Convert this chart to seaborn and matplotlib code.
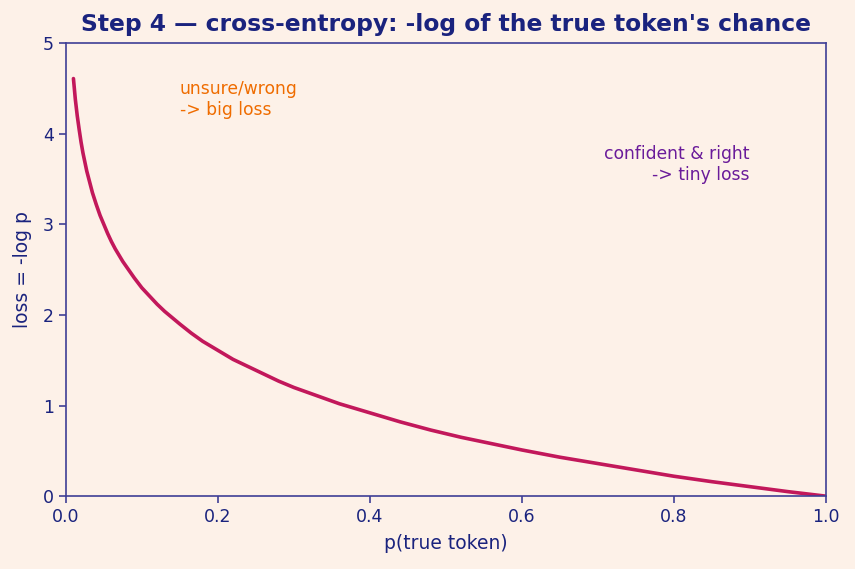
import matplotlib
matplotlib.use("Agg")
import matplotlib.pyplot as plt
import seaborn as sns
import pandas as pd

# values
p_true = [0.01, 0.0125, 0.015, 0.0175, 0.02, 0.0225, 0.025, 0.0275, 0.03, 0.035,
          0.04, 0.045, 0.05, 0.055, 0.06, 0.065, 0.07, 0.075, 0.08, 0.09, 0.1,
          0.11, 0.12, 0.13, 0.14, 0.15, 0.165, 0.18, 0.2, 0.22, 0.24, 0.26,
          0.28, 0.3, 0.33, 0.36, 0.4, 0.44, 0.48, 0.52, 0.56, 0.6, 0.65, 0.7,
          0.75, 0.8, 0.85, 0.9, 0.95, 1.0]
loss = [4.61, 4.38, 4.20, 4.05, 3.91, 3.79, 3.69, 3.59, 3.51, 3.35,
        3.22, 3.10, 3.00, 2.90, 2.81, 2.73, 2.66, 2.59, 2.53, 2.41, 2.30,
        2.21, 2.12, 2.04, 1.97, 1.90, 1.80, 1.71, 1.61, 1.51, 1.43, 1.35,
        1.27, 1.20, 1.11, 1.02, 0.92, 0.82, 0.73, 0.65, 0.58, 0.51, 0.43, 0.36,
        0.29, 0.22, 0.16, 0.105, 0.05, 0.0]

bg = "#fdf1e8"
navy = "#1a237e"
spine = "#3f3f96"

sns.set_theme(style="ticks", rc={
    "figure.facecolor": bg, "axes.facecolor": bg,
    "axes.edgecolor": spine, "axes.linewidth": 1.2,
    "xtick.color": spine, "ytick.color": spine,
    "xtick.labelcolor": navy, "ytick.labelcolor": navy,
    "axes.labelcolor": navy, "text.color": navy,
})
plt.rcParams["font.family"] = ["DejaVu Sans"]

df = pd.DataFrame({"p": p_true, "loss": loss})

fig, ax = plt.subplots(figsize=(8.55, 5.69), dpi=100)
sns.lineplot(data=df, x="p", y="loss", color="#c2185b", linewidth=2.6, ax=ax)

ax.set_xlim(0, 1)
ax.set_ylim(0, 5)
ax.set_xticks([0, 0.2, 0.4, 0.6, 0.8, 1.0])
ax.set_yticks([0, 1, 2, 3, 4, 5])
ax.tick_params(labelsize=12.5, length=5, width=1.2)
ax.set_xlabel("p(true token)", fontsize=13.5, labelpad=6)
ax.set_ylabel("loss = -log p", fontsize=13.5, labelpad=8)
ax.set_title("Step 4 — cross-entropy: -log of the true token's chance",
             fontsize=16.8, fontweight="bold", color=navy, pad=9)

ax.text(0.15, 4.38, "unsure/wrong\n-> big loss", color="#ef6c00",
        fontsize=12.3, ha="left", va="center")
ax.text(0.9, 3.66, "confident & right\n-> tiny loss", color="#6a1b9a",
        fontsize=12.3, ha="right", va="center", multialignment="right")

fig.subplots_adjust(left=0.077, right=0.966, top=0.924, bottom=0.128)
fig.savefig("out.png", dpi=100, facecolor=bg)
